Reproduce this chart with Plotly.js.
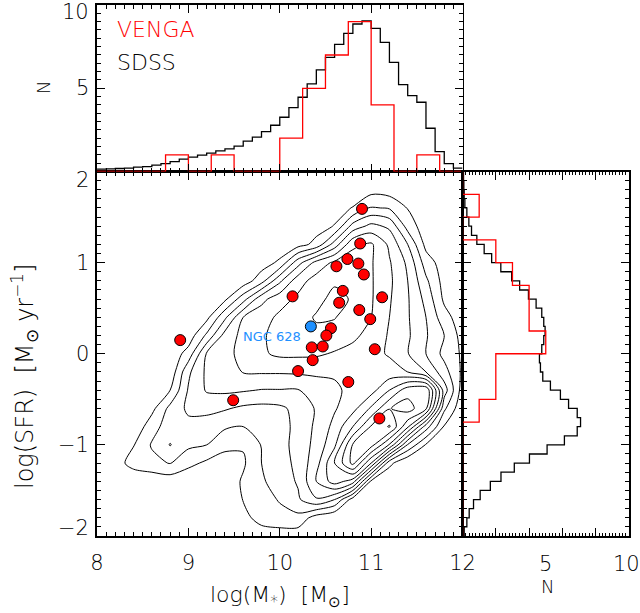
<!DOCTYPE html>
<html><head><meta charset="utf-8">
<script src="https://cdn.plot.ly/plotly-3.0.1.min.js"></script>
<style>html,body{margin:0;padding:0;background:#fff;}#chart{width:640px;height:613px;}</style>
</head><body><div id="chart"></div>
<script>
// ---------- VENGA galaxies (log M*, log SFR) ----------
const vengaMass = [10.90,10.88,10.74,10.62,10.86,10.92,10.14,10.69,10.65,11.12,10.87,10.99,10.56,10.51,10.35,10.47,11.04,8.91,10.36,10.20,10.75,9.49,11.09];
const vengaSfr  = [1.59,1.21,1.04,0.96,0.99,0.87,0.63,0.69,0.56,0.62,0.48,0.38,0.28,0.20,0.07,0.08,0.05,0.15,-0.07,-0.19,-0.31,-0.51,-0.71];
const ngcMass = [10.34];
const ngcSfr = [0.30];
const ngcLabel = 'NGC 628';

// ---------- top histogram (stellar mass) ----------
const sdssMassEdges = [8.0,8.1,8.2,8.3,8.4,8.5,8.6,8.7,8.8,8.9,9.0,9.1,9.2,9.3,9.4,9.5,9.6,9.7,9.8,9.9,10.0,10.1,10.2,10.3,10.4,10.5,10.6,10.7,10.8,10.9,11.0,11.1,11.2,11.3,11.4,11.5,11.6,11.7,11.8,11.9,12.0];
const sdssMassN = [0.14,0.16,0.18,0.2,0.26,0.3,0.38,0.48,0.6,0.74,0.86,0.98,1.1,1.24,1.36,1.52,1.82,2.06,2.4,2.78,3.26,3.84,4.46,5.26,6.1,6.86,7.64,8.3,8.86,9.04,8.6,7.76,6.56,5.22,4.56,4.16,2.6,1.2,0.48,0.2];
const vengaMassEdges = [8.0,8.25,8.5,8.75,9.0,9.25,9.5,9.75,10.0,10.25,10.5,10.75,11.0,11.25,11.5,11.75,12.0];
const vengaMassN = [0,0,0,1,0,1,0,0,2,5,7,9,4,0,1,0];

// ---------- right histogram (SFR) ----------
const sdssSfrEdges = [-2.0,-1.9,-1.8,-1.7,-1.6,-1.5,-1.4,-1.3,-1.2,-1.1,-1.0,-0.9,-0.8,-0.7,-0.6,-0.5,-0.4,-0.3,-0.2,-0.1,0.0,0.1,0.2,0.3,0.4,0.5,0.6,0.7,0.8,0.9,1.0,1.1,1.2,1.3,1.4,1.5,1.6,1.7,1.8,1.9,2.0];
const sdssSfrN = [0.1,0.26,0.4,0.66,1.06,1.67,2.31,3.11,4.02,5.08,6.12,6.89,7.09,6.89,6.37,5.88,5.28,4.82,4.68,4.62,4.76,4.88,4.96,4.88,4.76,4.42,3.96,3.43,2.95,2.3,1.75,1.3,0.86,0.54,0.38,0.26,0.14,0.1,0.08,0.06];
const vengaSfrEdges = [-2.0,-1.75,-1.5,-1.25,-1.0,-0.75,-0.5,-0.25,0.0,0.25,0.5,0.75,1.0,1.25,1.5,1.75,2.0];
const vengaSfrN = [0,0,0,0,0,1,2,2,5,4,4,3,2,0,1,0];

// ---------- SDSS density (contour level estimates) ----------
const contourMass = [8.0,8.2,8.4,8.6,8.8,9.0,9.2,9.4,9.6,9.8,10.0,10.2,10.4,10.6,10.8,11.0,11.2,11.4,11.6,11.8,12.0];
const contourSfr = [-2.0,-1.8,-1.6,-1.4,-1.2,-1.0,-0.8,-0.6,-0.4,-0.2,0.0,0.2,0.4,0.6,0.8,1.0,1.2,1.4,1.6,1.8,2.0];
const sdssDensity = [
 [0,0,0,0,0,0,0,0,0,0.3,0.5,0.4,0,0,0,0,0,0,0,0,0],
 [0,0,0,0,0,0,0,0,0.6,1.5,1.6,1.7,0.5,0,0,0,0,0,0,0,0],
 [0,0,0,0,0,0,0,0,1.05,1.5,2.1,2.85,3.9,3.0,0.5,0,0,0,0,0,0],
 [0,0,0.2,0.3,0.4,0.2,0.1,0.3,1.15,1.85,2.5,3.1,5.0,6.5,5.5,0.8,0,0,0,0,0],
 [0,0.55,1.4,1.7,2.05,1.3,0.8,0.75,0.85,2.0,2.5,3.3,4.6,7.0,9.3,6.0,1.3,0,0,0,0],
 [0,0.2,0.95,2.1,3.05,2.2,2.0,1.15,1.1,2.05,2.6,3.4,4.3,5.8,9.1,9.4,6.89,2.9,0.9,0,0],
 [0,0,0.2,1.6,2.5,2.7,2.5,2.15,2.0,2.1,2.6,3.3,4.2,5.3,7.0,9.1,10.1,7.18,3.5,0.9,0],
 [0,0,0,0.7,2.3,3.2,3.3,3.1,2.8,2.7,2.8,3.3,4.1,4.9,5.66,7.16,8.95,9.45,8.2,2.2,0.2],
 [0,0,0,0.2,1.0,3.1,4.1,4.2,4.1,3.95,3.95,3.95,4.4,4.8,5.3,5.6,7.0,8.6,8.9,3.5,0.5],
 [0,0,0,0,0.3,2.8,4.2,4.5,5.05,5.1,5.1,5.15,5.2,5.15,5.2,5.3,5.4,5.0,4.0,2.4,0.8],
 [0,0,0,0,0.3,1.4,4.1,4.7,5.3,5.85,6.2,6.2,6.15,5.9,5.6,5.3,4.9,4.05,3.0,1.7,0.85],
 [0,0,0,0,0,0.4,2.2,4.4,5.3,5.85,6.4,6.7,6.75,6.6,6.25,5.6,4.9,4.15,3.1,2.0,0.6],
 [0,0,0,0,0,0,0.7,2.8,5.0,5.6,6.2,6.6,7.1,7.05,6.5,6.0,5.0,4.1,3.0,1.4,0.4],
 [0,0,0,0,0,0,0,0.8,2.6,4.7,5.6,6.2,6.7,7.3,6.9,6.1,5.1,4.1,2.7,0.8,0.3],
 [0,0,0,0,0,0,0,0,0.4,1.6,3.8,5.6,6.4,6.85,6.7,6.1,5.2,4.0,2.2,0.6,0.2],
 [0,0,0,0,0,0,0,0,0,0.5,1.2,3.6,5.35,6.2,6.5,6.1,5.1,3.8,1.5,0.5,0.2],
 [0,0,0,0,0,0,0,0,0,0,0.3,0.6,1.3,3.45,5.8,6.15,4.8,3.0,0.7,0.2,0],
 [0,0,0,0,0,0,0,0,0,0,0,0.3,0.6,1.05,3.4,4.3,3.8,1.6,0.4,0.2,0],
 [0,0,0,0,0,0,0,0,0,0,0,0,0.3,0.6,1.05,2.1,1.9,0.95,0.5,0.2,0],
 [0,0,0,0,0,0,0,0,0,0,0,0,0,0,0.3,0.6,0.5,0,0,0,0],
 [0,0,0,0,0,0,0,0,0,0,0,0,0,0,0,0,0,0,0,0,0]
];

// tick labels
const mainYTicks = [-2,-1,0,1,2];
const mainYText = ['\u22122','\u22121','0','1','2'];
const topYTicks = [5,10];
const topYText = ['5','10'];
const rightXTicks = [5,10];
const rightXText = ['5','10'];

function lastRepeated(a){ return a.concat([a[a.length-1]]); }

const FONT = 'DejaVu Sans';
const W = 200;
const TXT = '#000';
const data = [
  {type:'contour', x:contourMass, y:contourSfr, z:sdssDensity, xaxis:'x', yaxis:'y',
   autocontour:false, contours:{start:1, end:10, size:1, coloring:'lines'},
   colorscale:[[0,'#000'],[1,'#000']], showscale:false, line:{width:1, smoothing:0.8}, hoverinfo:'skip'},
  {type:'scatter', mode:'markers', x:vengaMass, y:vengaSfr, xaxis:'x', yaxis:'y',
   marker:{size:11, color:'#ff0000', line:{color:'#000', width:1}}},
  {type:'scatter', mode:'markers', x:ngcMass, y:ngcSfr, xaxis:'x', yaxis:'y',
   marker:{size:11, color:'#1e90ff', line:{color:'#000', width:1}}},
  {type:'scatter', mode:'lines', x:sdssMassEdges, y:lastRepeated(sdssMassN), xaxis:'x2', yaxis:'y2',
   line:{shape:'hv', color:'#000', width:1.3}},
  {type:'scatter', mode:'lines', x:vengaMassEdges, y:lastRepeated(vengaMassN), xaxis:'x2', yaxis:'y2',
   line:{shape:'hv', color:'#ff0000', width:1.3}},
  {type:'scatter', mode:'lines', x:lastRepeated(sdssSfrN), y:sdssSfrEdges, xaxis:'x3', yaxis:'y3',
   line:{shape:'vh', color:'#000', width:1.3}},
  {type:'scatter', mode:'lines', x:lastRepeated(vengaSfrN), y:vengaSfrEdges, xaxis:'x3', yaxis:'y3',
   line:{shape:'vh', color:'#ff0000', width:1.3}}
];

const common = {showline:true, linecolor:'#000', linewidth:1.6, mirror:'allticks', ticks:'inside',
  tickcolor:'#000', tickwidth:1, ticklen:8, showgrid:false, zeroline:false, fixedrange:true,
  tickfont:{family:FONT, size:21, color:TXT, weight:W}};
const minorM = {dtick:0.1, ticklen:4, ticks:'inside', tickcolor:'#000', showgrid:false};

const XD = [0.1516, 0.7227], YD = [0.1256, 0.7202];
const layout = {
  width:640, height:613, margin:{l:0,r:0,t:0,b:0}, showlegend:false,
  paper_bgcolor:'#fff', plot_bgcolor:'rgba(0,0,0,0)', font:{family:FONT, color:TXT, weight:W},
  xaxis:Object.assign({}, common, {domain:XD, range:[8,12], anchor:'y', tickmode:'linear', tick0:8, dtick:1,
    minor:minorM, ticklabelstandoff:7}),
  yaxis:Object.assign({}, common, {domain:YD, range:[-2,2], anchor:'x', tickmode:'linear', tick0:0, dtick:1,
    minor:minorM, showticklabels:false}),
  xaxis2:Object.assign({}, common, {domain:XD, range:[8,12], anchor:'y2', tickmode:'linear', tick0:8, dtick:1,
    minor:minorM, showticklabels:false}),
  yaxis2:Object.assign({}, common, {domain:[YD[1],0.9918], range:[0,10], anchor:'x2', tickmode:'array', tickvals:[0,5,10],
    minor:{dtick:0.5, ticklen:4, ticks:'inside', tickcolor:'#000', showgrid:false}, showticklabels:false}),
  xaxis3:Object.assign({}, common, {domain:[XD[1],0.9828], range:[0,10], anchor:'y3', tickmode:'array',
    tickvals:[2,4,6,8], showticklabels:false,
    minor:{dtick:0.2, ticklen:3, ticks:'inside', tickcolor:'#000', showgrid:false}}),
  yaxis3:Object.assign({}, common, {domain:YD, range:[-2,2], anchor:'x3', tickmode:'linear', tick0:0, dtick:1,
    minor:minorM, showticklabels:false}),
  annotations:[]
};

const ann = layout.annotations;
const tf = {family:FONT, size:21, color:TXT, weight:W};
mainYTicks.forEach((v,i)=>{
  ann.push({xref:'paper', yref:'y', x:91/640, y:v, xanchor:'right', yanchor:'middle', showarrow:false,
    yshift: v===2 ? -8 : (v===-2 ? 8 : 0), text:mainYText[i], font:tf});
});
topYTicks.forEach((v,i)=>{
  ann.push({xref:'paper', yref:'y2', x:91/640, y:v, xanchor:'right', yanchor:'middle', showarrow:false,
    yshift: v===10 ? -7 : 0, text:topYText[i], font:tf});
});
rightXTicks.forEach((v,i)=>{
  ann.push({xref:'x3', yref:'paper', x:v, y:(613-564)/613, xanchor:'center', yanchor:'middle', showarrow:false,
    xshift: v===10 ? -2 : 0, text:rightXText[i], font:tf});
});
ann.push({xref:'paper', yref:'paper', x:115/640, y:(613-30)/613, xanchor:'left', yanchor:'middle', showarrow:false,
  text:'VENGA', font:{family:FONT, size:22, color:'#ff0000', weight:W}});
ann.push({xref:'paper', yref:'paper', x:115/640, y:(613-63)/613, xanchor:'left', yanchor:'middle', showarrow:false,
  text:'SDSS', font:{family:FONT, size:22, color:TXT, weight:W}});
ann.push({xref:'paper', yref:'paper', x:44/640, y:(613-88)/613, xanchor:'center', yanchor:'middle', showarrow:false,
  textangle:-90, text:'N', font:{family:FONT, size:18, color:TXT, weight:W}});
ann.push({xref:'paper', yref:'paper', x:547/640, y:(613-586)/613, xanchor:'center', yanchor:'middle', showarrow:false,
  text:'N', font:{family:FONT, size:18, color:TXT, weight:W}});
ann.push({xref:'x', yref:'y', x:9.92, y:0.19, xanchor:'center', yanchor:'middle', showarrow:false,
  text:ngcLabel, font:{family:FONT, size:13, color:'#1e90ff', weight:400}});
ann.push({xref:'paper', yref:'paper', x:279.5/640, y:(613-596)/613, xanchor:'center', yanchor:'middle', showarrow:false,
  text:'log(M<sub>*</sub>)\u00a0\u00a0[M<sub>\u2299</sub>]', font:{family:FONT, size:22, color:TXT, weight:W}});
ann.push({xref:'paper', yref:'paper', x:25/640, y:(613-377)/613, xanchor:'center', yanchor:'middle', showarrow:false,
  textangle:-90, text:'log(SFR)\u00a0\u00a0[M<sub>\u2299</sub>\u00a0yr<sup>\u22121</sup>]', font:{family:FONT, size:24, color:TXT, weight:W}});

Plotly.newPlot('chart', data, layout, {staticPlot:true, displayModeBar:false});
</script></body></html>
